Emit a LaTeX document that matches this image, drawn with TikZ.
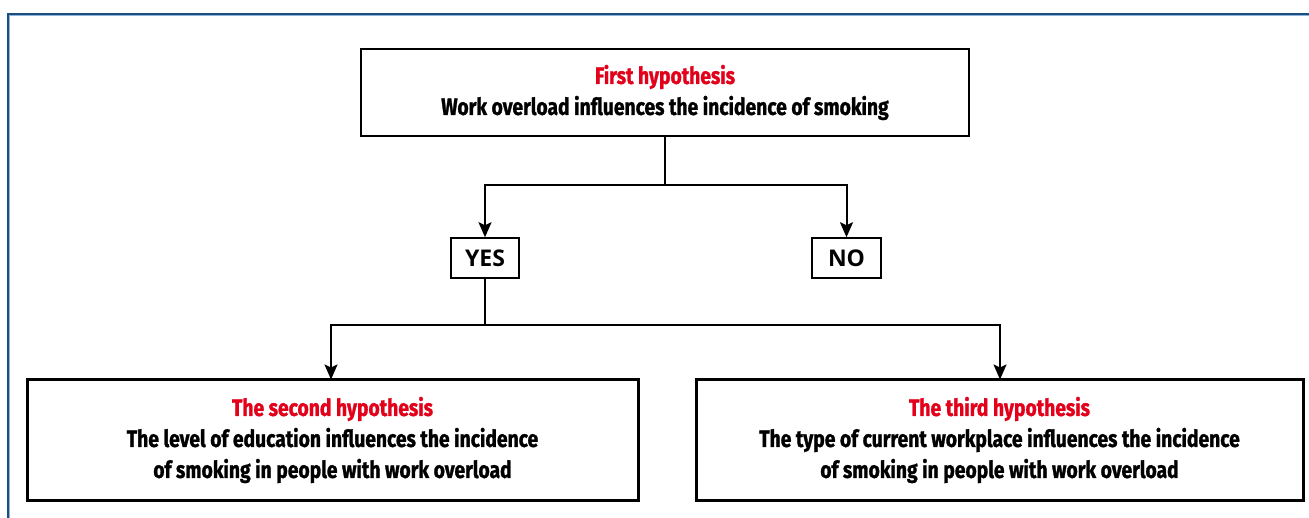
\documentclass[tikz,border=0pt]{standalone}
\usepackage{fontspec}
\usetikzlibrary{arrows.meta}
\newfontfamily\condfont{Fira Sans}[FakeStretch=0.82,FakeBold=1.2]
\newfontfamily\yesfont{Open Sans}
\definecolor{hypred}{HTML}{E2001A}
\definecolor{framedark}{HTML}{1B4D7E}
\definecolor{framelight}{HTML}{8DB3DA}
\tikzset{
  hypbox/.style={draw=black, fill=white, inner sep=0pt, minimum width=#1, align=center,
     font=\condfont\fontsize{23.5}{31}\selectfont},
  ansbox/.style={draw=black, line width=1.5pt, inner sep=0pt, minimum width=68pt, minimum height=40pt,
     font=\yesfont\bfseries\fontsize{23}{26}\selectfont},
  conn/.style={line width=2pt, -{Stealth[length=15pt,width=13pt,inset=3pt]}},
  plain/.style={line width=2pt},
}
\begin{document}
\begin{tikzpicture}[x=1pt,y=-1pt]
\useasboundingbox (0,0) rectangle (1309,518);
% frame
\draw[framelight, line width=1.2pt] (9.8,518) -- (9.8,15.8) -- (1309,15.8);
\draw[framedark, line width=1.6pt] (8,518) -- (8,14) -- (1309,14);
% boxes
\node[hypbox=608pt, minimum height=87pt, line width=2.5pt] (top) at (665,92.5)
  {\textcolor{hypred}{\bfseries First hypothesis}\\\bfseries Work overload influences the incidence of smoking};
\node[ansbox] (yes) at (485,258) {YES};
\node[ansbox, minimum width=69pt] (no) at (846.5,258) {NO};
\node[hypbox=611pt, minimum height=121pt, line width=3pt] (left) at (332.5,440)
  {\textcolor{hypred}{\bfseries The second hypothesis}\\\bfseries The level of education influences the incidence\\\bfseries of smoking in people with work overload};
\node[hypbox=607pt, minimum height=121pt, line width=3pt] (right) at (999.5,440)
  {\textcolor{hypred}{\bfseries The third hypothesis}\\\bfseries The type of current workplace influences the incidence\\\bfseries of smoking in people with work overload};
% connectors
\coordinate (j1) at (665,185);
\coordinate (j2) at (485,325);
\coordinate (lt) at (331,379.5);
\coordinate (rt) at (1000,379.5);
\draw[plain] (top.south) -- (j1);
\draw[conn] (j1) -| (yes.north);
\draw[conn] (j1) -| (no.north);
\draw[plain] (yes.south) -- (j2);
\draw[conn] (j2) -| (lt);
\draw[conn] (j2) -| (rt);
\end{tikzpicture}
\end{document}
